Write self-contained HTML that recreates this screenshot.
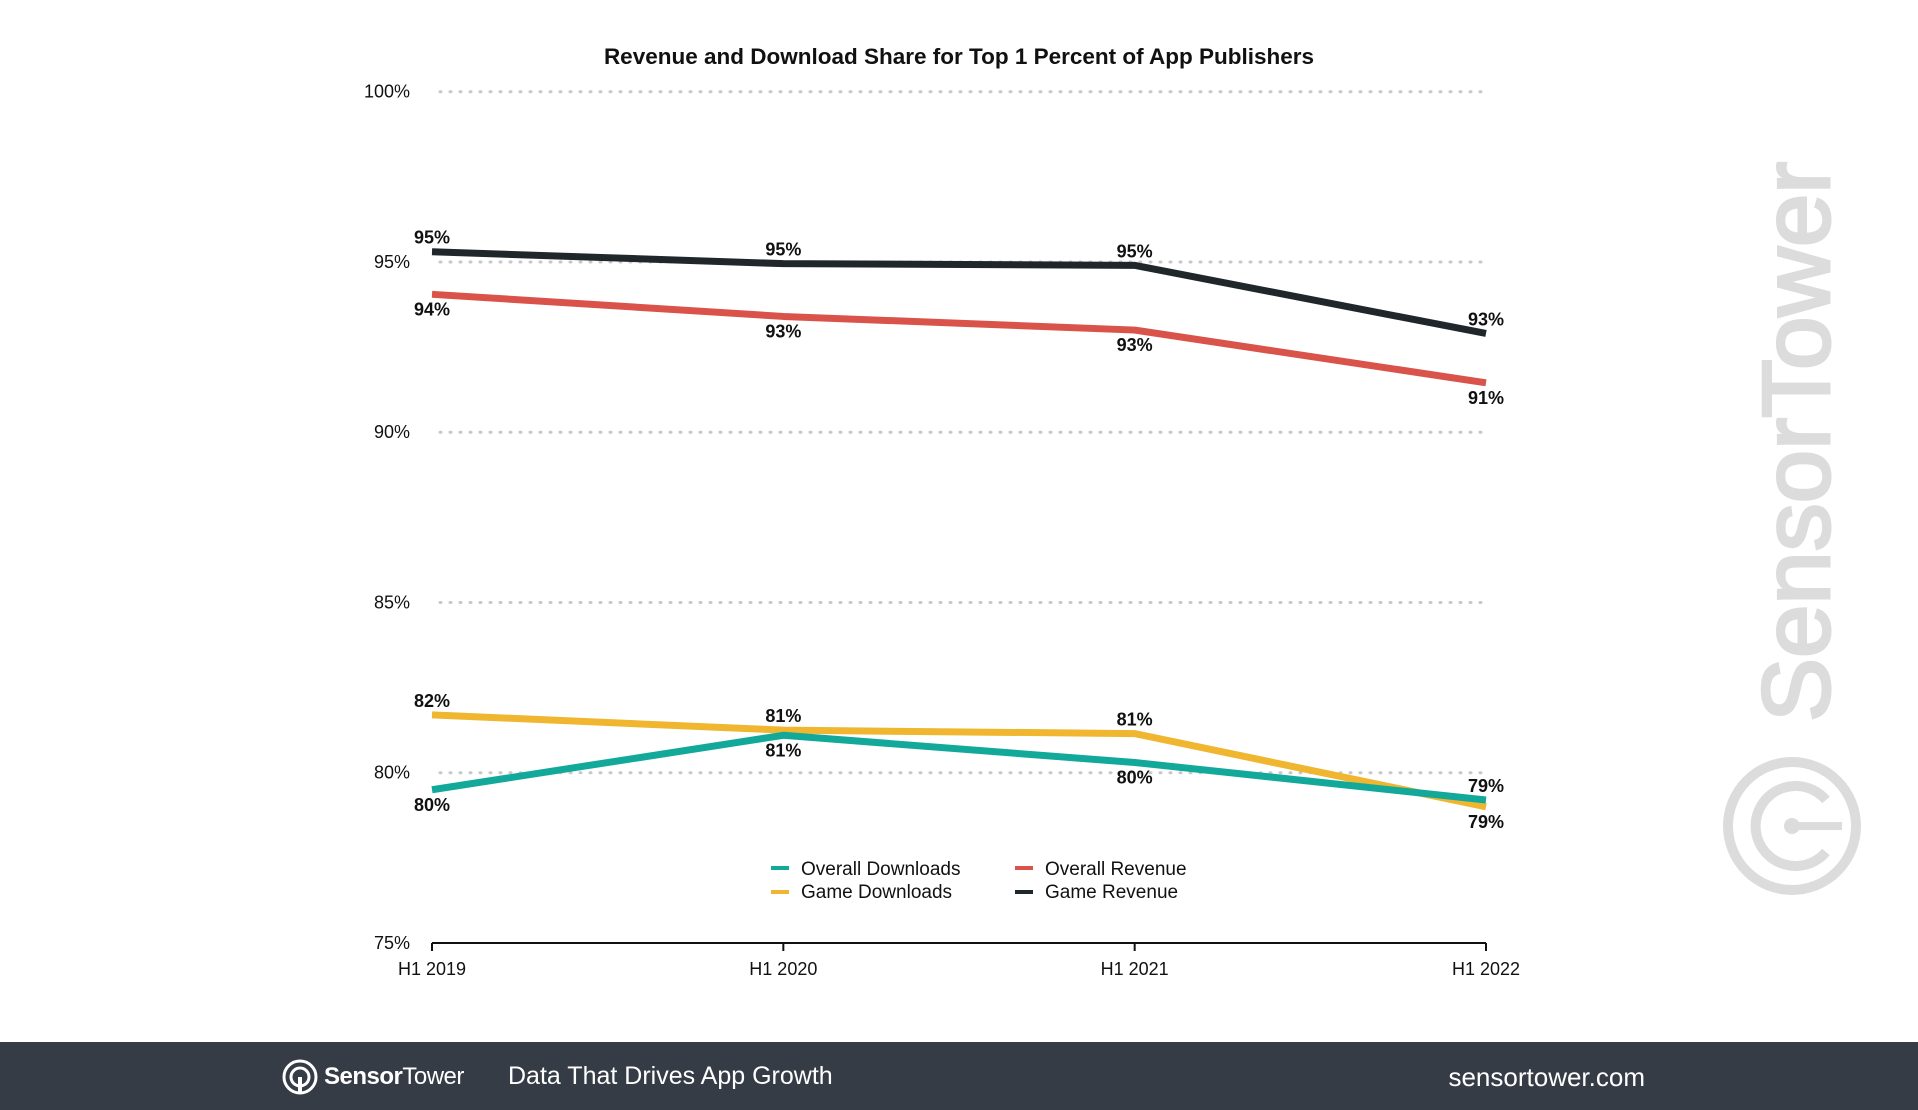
<!DOCTYPE html>
<html><head><meta charset="utf-8"><style>
html,body{margin:0;padding:0;background:#fff;}
body{width:1918px;height:1110px;position:relative;overflow:hidden;font-family:"Liberation Sans",sans-serif;}
#footer{position:absolute;left:0;top:1042px;width:1918px;height:68px;background:#363c46;color:#fff;}
</style></head><body>
<svg id="chart" width="1918" height="1042" style="position:absolute;left:0;top:0" font-family="Liberation Sans, sans-serif">
<text x="959" y="64" text-anchor="middle" font-size="22.5" font-weight="bold" fill="#111">Revenue and Download Share for Top 1 Percent of App Publishers</text>
<g id="grid"></g><g id="axes"></g><g id="lines"></g><g id="labels"></g>
<g font-size="19" fill="#111">
<rect x="771" y="866" width="18" height="4" fill="#12a99a"/><text x="801" y="875">Overall Downloads</text>
<rect x="771" y="890" width="18" height="4" fill="#f0b62f"/><text x="801" y="898">Game Downloads</text>
<rect x="1015" y="866" width="18" height="4" fill="#d9534a"/><text x="1045" y="875">Overall Revenue</text>
<rect x="1015" y="890" width="18" height="4" fill="#1f272b"/><text x="1045" y="898">Game Revenue</text>
</g>
<g fill="#dcdcdc">
<text x="0" y="0" transform="translate(1829,722) rotate(-90)" font-size="96" fill="#dcdcdc" stroke="#dcdcdc" stroke-width="3">SensorTower</text>
<circle cx="1792" cy="826" r="64" fill="none" stroke="#dcdcdc" stroke-width="10"/>
<path d="M1826 800 A40 40 0 1 0 1826 852" fill="none" stroke="#dcdcdc" stroke-width="10"/>
<circle cx="1792" cy="826" r="8" fill="#dcdcdc"/><rect x="1792" y="822" width="50" height="8" fill="#dcdcdc"/>
</g>
</svg>
<div id="footer">
<svg style="position:absolute;left:281px;top:16px" width="38" height="38"><circle cx="19" cy="19" r="16" fill="none" stroke="#fff" stroke-width="3"/><circle cx="19" cy="19" r="9" fill="none" stroke="#fff" stroke-width="3"/><rect x="17" y="19" width="4" height="17" fill="#fff"/></svg>
<div style="position:absolute;left:324px;top:21px;font-size:24px;letter-spacing:-0.5px;"><b>Sensor</b>Tower</div>
<div style="position:absolute;left:508px;top:20px;font-size:25px;">Data That Drives App Growth</div>
<div style="position:absolute;right:273px;top:20px;font-size:26px;">sensortower.com</div>
</div>
<script>
const categories=["H1 2019","H1 2020","H1 2021","H1 2022"];
const yTicks=[75,80,85,90,95,100];
const overallDownloads=[79.5,81.1,80.3,79.2];
const gameDownloads=[81.7,81.25,81.15,79.0];
const overallRevenue=[94.05,93.4,93.0,91.45];
const gameRevenue=[95.3,94.95,94.9,92.9];
const overallDownloadsLabels=["80%","81%","80%","79%"];
const gameDownloadsLabels=["82%","81%","81%","79%"];
const overallRevenueLabels=["94%","93%","93%","91%"];
const gameRevenueLabels=["95%","95%","95%","93%"];
const NS="http://www.w3.org/2000/svg";
function x(i){return 432+i*(1486-432)/(categories.length-1);}
function y(v){return 943-(v-75)*(943-91.7)/25;}
function mk(tag,attrs,parent){const e=document.createElementNS(NS,tag);for(const k in attrs)e.setAttribute(k,attrs[k]);document.getElementById(parent).appendChild(e);return e;}
yTicks.forEach(t=>{
 if(t>75){const g=mk('line',{x1:440,x2:1486,y1:y(t),y2:y(t),stroke:'#c8c8c8','stroke-width':3,'stroke-dasharray':'1 9','stroke-linecap':'round'},'grid');
 
 }
 const l=mk('text',{x:410,y:y(t)+6,'text-anchor':'end','font-size':18,fill:'#111'},'axes');l.textContent=t+'%';
 
 
});
const ax=mk('line',{x1:432,x2:1486,y1:943,y2:943,stroke:'#111','stroke-width':2},'axes');


categories.forEach((c,i)=>{
 const tk=mk('line',{x1:x(i),x2:x(i),y1:943,y2:951,stroke:'#111','stroke-width':2},'axes');
 
 
 const t=mk('text',{x:x(i),y:975,'text-anchor':'middle','font-size':18,fill:'#111'},'axes');t.textContent=c;
 
 
});
function series(vals,labs,color,name,pos){
 const p=mk('polyline',{points:vals.map((v,i)=>x(i)+','+y(v)).join(' '),fill:'none',stroke:color,'stroke-width':7,'stroke-linejoin':'round'},'lines');
 
 
 vals.forEach((v,i)=>{
  const dy=pos[i]==='a'?-8:21;
  const t=mk('text',{x:x(i),y:y(v)+dy,'text-anchor':'middle','font-size':18,'font-weight':'bold',fill:'#111'},'labels');t.textContent=labs[i];
  
  
 });
}
series(gameDownloads,gameDownloadsLabels,'#f0b62f','game-downloads',['a','a','a','b']);
series(overallDownloads,overallDownloadsLabels,'#12a99a','overall-downloads',['b','b','b','a']);
series(overallRevenue,overallRevenueLabels,'#d9534a','overall-revenue',['b','b','b','b']);
series(gameRevenue,gameRevenueLabels,'#1f272b','game-revenue',['a','a','a','a']);
</script>
</body></html>
